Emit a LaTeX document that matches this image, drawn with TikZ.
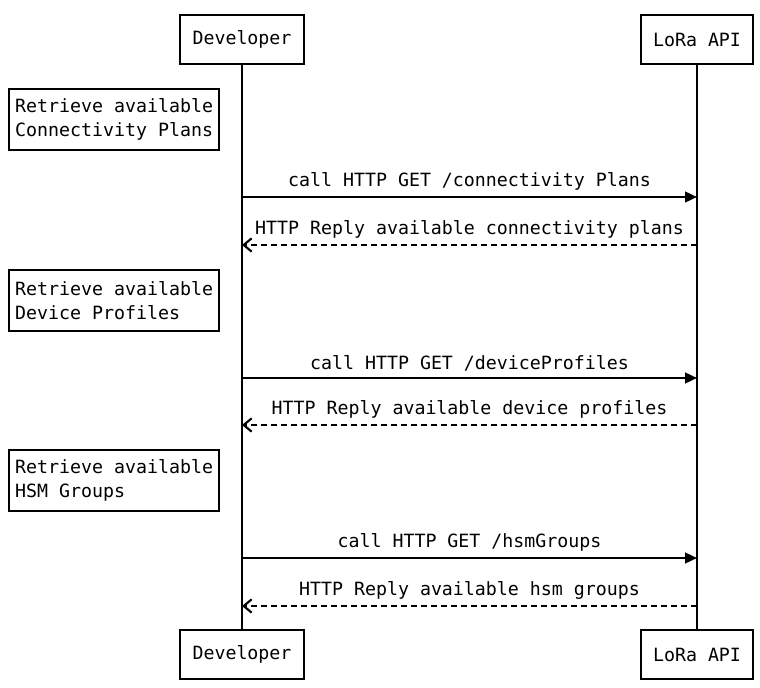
\documentclass[tikz,border=0pt]{standalone}
\usepackage{fontspec}
\setmonofont{DejaVu Sans Mono}
\usetikzlibrary{arrows.meta}
\begin{document}
\begin{tikzpicture}[x=0.75pt,y=-0.75pt,
  every node/.style={font=\ttfamily\fontsize{13.7pt}{18pt}\selectfont},
  actor/.style={draw,line width=1.8pt,fill=white,minimum height=49*0.75pt,inner xsep=0pt},
  notebox/.style={draw,line width=1.8pt,fill=white,align=left,anchor=north west,minimum width=210*0.75pt,minimum height=61*0.75pt,inner xsep=4.5pt},
  lifeline/.style={line width=1.8pt},
  callarrow/.style={line width=1.8pt,-{Triangle[length=9pt,width=8pt]}},
  replyarrow/.style={line width=1.8pt,dashed,dash pattern=on 4.5pt off 3pt,-{Straight Barb[length=6pt,width=10pt,line width=1.6pt]}},
  lbl/.style={above,inner sep=4pt}]
\useasboundingbox (0,0) rectangle (760,688);
\node[actor,minimum width=124*0.75pt] (devT) at (242,39.5) {Developer};
\node[actor,minimum width=112*0.75pt] (apiT) at (697,39.5) {LoRa API};
\node[actor,minimum width=124*0.75pt] (devB) at (242,654.5) {Developer};
\node[actor,minimum width=112*0.75pt] (apiB) at (697,654.5) {LoRa API};
\draw[lifeline] (devT.south) -- (devB.north);
\draw[lifeline] (apiT.south) -- (apiB.north);

\node[notebox] (n1) at (8,88) {Retrieve available\\Connectivity Plans};
\node[notebox] (n2) at (8,269) {Retrieve available\\Device Profiles};
\node[notebox] (n3) at (8,449) {Retrieve available\\HSM Groups};

\coordinate (d1) at (242,197); \coordinate (a1) at (697,197);
\coordinate (d2) at (242,245); \coordinate (a2) at (697,245);
\coordinate (d3) at (242,378); \coordinate (a3) at (697,378);
\coordinate (d4) at (242,425); \coordinate (a4) at (697,425);
\coordinate (d5) at (242,558); \coordinate (a5) at (697,558);
\coordinate (d6) at (242,606); \coordinate (a6) at (697,606);

\draw[callarrow] (d1) -- node[lbl] (l1) {call HTTP GET /connectivity Plans} (a1);
\draw[replyarrow] (a2) -- node[lbl] (l2) {HTTP Reply available connectivity plans} (d2);
\draw[callarrow] (d3) -- node[lbl] (l3) {call HTTP GET /deviceProfiles} (a3);
\draw[replyarrow] (a4) -- node[lbl] (l4) {HTTP Reply available device profiles} (d4);
\draw[callarrow] (d5) -- node[lbl] (l5) {call HTTP GET /hsmGroups} (a5);
\draw[replyarrow] (a6) -- node[lbl] (l6) {HTTP Reply available hsm groups} (d6);
\end{tikzpicture}
\end{document}
